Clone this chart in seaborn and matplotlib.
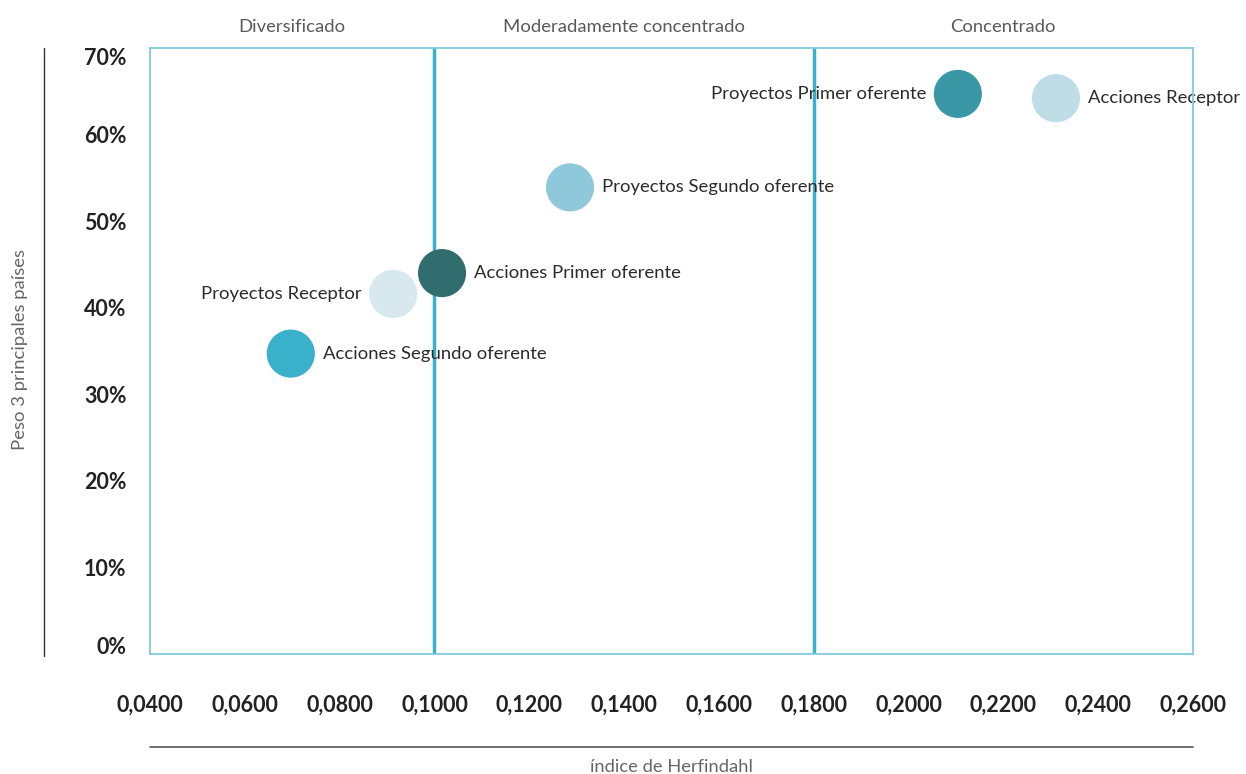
import matplotlib.pyplot as plt
import matplotlib.ticker as mticker
import pandas as pd
import seaborn as sns

# datos
etiquetas = ["Proyectos Primer oferente", "Acciones Receptor", "Proyectos Segundo oferente",
             "Acciones Primer oferente", "Proyectos Receptor", "Acciones Segundo oferente"]
herfindahl = [0.2104, 0.2311, 0.1286, 0.1016, 0.0913, 0.0697]
peso_top3 = [0.647, 0.642, 0.539, 0.440, 0.416, 0.347]
colores = ["#3A98A6", "#BEDDE6", "#8EC8DA", "#316C6E", "#D7E9EE", "#3AB1CB"]
lado_texto = ["izq", "der", "der", "der", "izq", "der"]

umbrales = [0.10, 0.18]
zonas = ["Diversificado", "Moderadamente concentrado", "Concentrado"]
x_ticks = [0.04, 0.06, 0.08, 0.10, 0.12, 0.14, 0.16, 0.18, 0.20, 0.22, 0.24, 0.26]
y_ticks = [0, 0.1, 0.2, 0.3, 0.4, 0.5, 0.6, 0.7]

df = pd.DataFrame({"etiqueta": etiquetas, "hhi": herfindahl, "peso": peso_top3})

sns.set_theme(style="white")
plt.rcParams["font.family"] = ["Lato", "DejaVu Sans"]

fig = plt.figure(figsize=(12.46, 7.74), dpi=100)
ax = fig.add_axes([150 / 1246, 1 - 654 / 774, (1193 - 150) / 1246, (654 - 48) / 774])

for u in umbrales:
    ax.axvline(u, color="#3AB1CB", lw=2.5, zorder=1)

sns.scatterplot(data=df, x="hhi", y="peso", hue="etiqueta", palette=colores,
                s=1200, linewidth=0, legend=False, ax=ax, zorder=3)

for lab, x, y, lado in zip(etiquetas, herfindahl, peso_top3, lado_texto):
    dx = 23 if lado == "der" else -23
    ax.annotate(lab, (x, y), xytext=(dx, 0), textcoords="offset points",
                ha="left" if lado == "der" else "right", va="center",
                fontsize=13.3, color="#2b2b2b", zorder=2)

ax.set_xlim(0.04, 0.26)
ax.set_ylim(0, 0.7)
ax.set_xticks(x_ticks)
ax.set_yticks(y_ticks)
ax.xaxis.set_major_formatter(mticker.FuncFormatter(lambda v, p: f"{v:.4f}".replace(".", ",")))
ax.yaxis.set_major_formatter(mticker.FuncFormatter(lambda v, p: f"{v * 100:.0f}%"))
ax.tick_params(axis="x", length=0, pad=29, labelsize=15.5, labelcolor="#222222")
ax.tick_params(axis="y", length=0, pad=17, labelsize=15.5, labelcolor="#222222")
for t in ax.get_xticklabels() + ax.get_yticklabels():
    t.set_fontweight("bold")
ylabs = ax.get_yticklabels()
ylabs[0].set_va("baseline")
ylabs[-1].set_va("top")
ax.set_xlabel("")
ax.set_ylabel("")
for s in ax.spines.values():
    s.set_color("#7FCBDD")
    s.set_linewidth(1.3)

# títulos de zona arriba
bordes = [0.04] + umbrales + [0.26]
for i, z in enumerate(zonas):
    xm = (bordes[i] + bordes[i + 1]) / 2
    ax.text(xm, 1.034, z, transform=ax.get_xaxis_transform(), ha="center", va="center",
            fontsize=13.3, color="#5a5a5a")

# líneas y títulos de ejes
fig.add_artist(plt.Line2D([44 / 1246, 44 / 1246], [1 - 656 / 774, 1 - 48 / 774],
                          color="#333333", lw=1))
fig.add_artist(plt.Line2D([150 / 1246, 1193 / 1246], [1 - 747 / 774, 1 - 747 / 774],
                          color="#555555", lw=1.2))
fig.text(20 / 1246, 1 - 349 / 774, "Peso 3 principales países", rotation=90,
         ha="center", va="center", fontsize=13.3, color="#666666")
fig.text(671 / 1246, 1 - 767 / 774, "índice de Herfindahl", ha="center", va="center",
         fontsize=13.2, color="#666666")

fig.savefig("out.png", dpi=100)
